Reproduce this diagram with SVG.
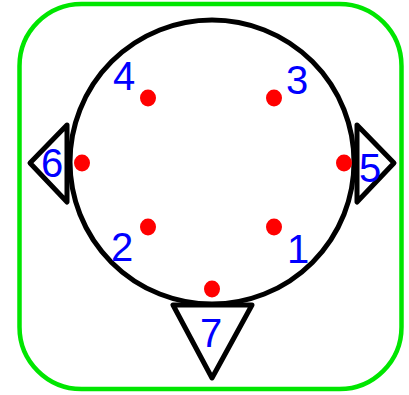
<svg xmlns="http://www.w3.org/2000/svg" width="409" height="395" viewBox="0 0 409 395">
<style>
.frame{fill:none;stroke:#00e600;stroke-width:4.5}
.line{fill:none;stroke:#000;stroke-width:5;stroke-linejoin:round}
.dot{fill:#ff0000}
.lbl{font-family:"Liberation Sans",Arial,sans-serif;font-size:40px;fill:#0000ff;text-anchor:middle}
</style>
<rect id="frame" class="frame" x="19.5" y="4" width="382" height="385" rx="62" ry="62"/>
<g id="head"><circle class="line" cx="212" cy="162" r="142"/></g>
<g id="ear-left"><polygon class="line" points="67,125 30,163 67,202"/></g>
<g id="ear-right"><polygon class="line" points="357,125 394,163 357,202"/></g>
<g id="nose"><polygon class="line" points="173,305 252,305 212,378"/></g>
<g id="connectors"></g>
<g id="n1"><ellipse class="dot" cx="274" cy="227" rx="8" ry="8.5"/><text class="lbl" x="298" y="263">1</text></g>
<g id="n2"><ellipse class="dot" cx="148" cy="227" rx="8" ry="8.5"/><text class="lbl" x="122" y="261">2</text></g>
<g id="n3"><ellipse class="dot" cx="274" cy="98" rx="8" ry="8.5"/><text class="lbl" x="297" y="94">3</text></g>
<g id="n4"><ellipse class="dot" cx="148" cy="98" rx="8" ry="8.5"/><text class="lbl" x="124" y="90">4</text></g>
<g id="n5"><ellipse class="dot" cx="344" cy="163" rx="8" ry="8.5"/><text class="lbl" x="370" y="182">5</text></g>
<g id="n6"><ellipse class="dot" cx="82" cy="163" rx="8" ry="8.5"/><text class="lbl" x="52" y="177">6</text></g>
<g id="n7"><ellipse class="dot" cx="212" cy="289" rx="8" ry="8.5"/><text class="lbl" x="211" y="347">7</text></g>
</svg>
